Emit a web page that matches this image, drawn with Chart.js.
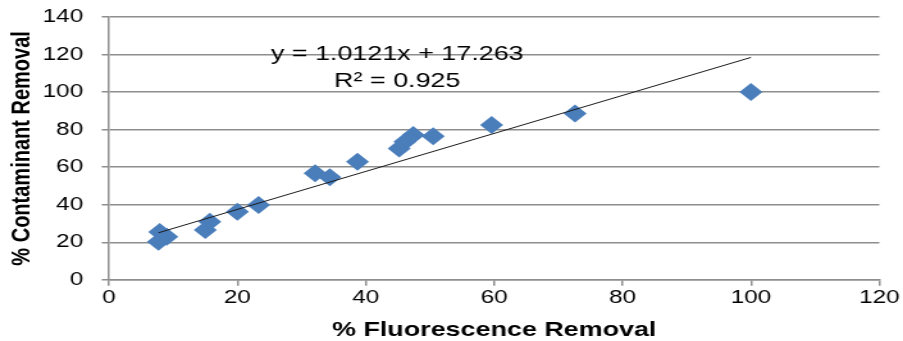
<!DOCTYPE html>
<html>
<head>
<meta charset="utf-8">
<title>Fluorescence vs Contaminant Removal</title>
<script src="https://cdn.jsdelivr.net/npm/chart.js@4.4.1/dist/chart.umd.min.js"></script>
<style>
    html, body { margin: 0; padding: 0; background: #fff; overflow: hidden; }
    /* chart is laid out narrow and widened, like the exported figure */
    #wrap { width: 705px; height: 341px; transform: scaleX(1.2809); transform-origin: 0 0; }
</style>
</head>
<body>
<div id="wrap"><canvas id="removalChart"></canvas></div>
<script>
var fluorescenceRemoval = [7.9, 7.7, 9.0, 15.7, 15.0, 20.0, 23.3, 32.1, 34.4, 38.7, 45.2, 46.1, 47.4, 50.5, 59.6, 72.6, 100];
var contaminantRemoval  = [25.4, 20.3, 22.9, 30.9, 26.5, 36.2, 39.8, 56.7, 54.6, 62.9, 70.0, 73.5, 77.1, 76.5, 82.4, 88.6, 100];

var xTickValues = [0, 20, 40, 60, 80, 100, 120];
var yTickValues = [0, 20, 40, 60, 80, 100, 120, 140];

// linear fit reported on the chart
var trendSlope = 1.0121;
var trendIntercept = 17.263;
var trendLabel = ['y = 1.0121x + 17.263', 'R\u00B2 = 0.925'];

var axisGray = '#8e8e8e';
var fontFamily = 'Arial, "Liberation Sans", sans-serif';

var points = fluorescenceRemoval.map(function (x, i) {
    return { x: x, y: contaminantRemoval[i] };
});
var xMin = Math.min.apply(null, fluorescenceRemoval);
var xMax = Math.max.apply(null, fluorescenceRemoval);
var trendPoints = [xMin, xMax].map(function (x) {
    return { x: x, y: trendSlope * x + trendIntercept };
});

// writes the fit equation above the line
var equationLabel = {
    id: 'equationLabel',
    afterDatasetsDraw: function (chart) {
        var ctx = chart.ctx;
        var x = chart.scales.x.getPixelForValue(44.9);
        var y = chart.scales.y.getPixelForValue(117);
        ctx.save();
        ctx.font = '21px ' + fontFamily;
        ctx.fillStyle = '#000';
        ctx.textAlign = 'center';
        ctx.textBaseline = 'alphabetic';
        ctx.fillText(trendLabel[0], x, y);
        ctx.fillText(trendLabel[1], x, y + 27);
        ctx.restore();
    }
};

function setTicks(values) {
    return function (scale) {
        scale.ticks = values.map(function (v) { return { value: v }; });
    };
}

var ctx = document.getElementById('removalChart').getContext('2d');
var removalChart = new Chart(ctx, {
    type: 'scatter',
    data: {
        datasets: [{
            label: 'Linear fit',
            data: trendPoints,
            showLine: true,
            borderColor: '#1a1a1a',
            borderWidth: 1,
            pointRadius: 0,
            fill: false
        }, {
            label: 'Samples',
            data: points,
            pointStyle: 'rectRot',
            pointRadius: 9,
            backgroundColor: '#4A7EBB',
            borderColor: '#4A7EBB',
            borderWidth: 0
        }]
    },
    options: {
        responsive: true,
        maintainAspectRatio: false,
        animation: false,
        layout: { padding: { top: 17, right: 18.5, bottom: 0, left: 0 } },
        plugins: {
            legend: { display: false },
            tooltip: { enabled: false }
        },
        scales: {
            x: {
                type: 'linear',
                min: 0,
                max: 120,
                afterBuildTicks: setTicks(xTickValues),
                afterFit: function (scale) {
                    scale.height = 61.2;
                    scale.paddingLeft = 0;
                    scale.paddingRight = 0;
                },
                ticks: { color: '#000', padding: 1, font: { family: fontFamily, size: 19 } },
                grid: { drawOnChartArea: false, drawTicks: true, tickLength: 6, color: axisGray, lineWidth: 1.5 },
                border: { display: true, color: axisGray, width: 1.5 },
                title: {
                    display: true,
                    text: '% Fluorescence Removal',
                    color: '#000',
                    padding: { top: 0, bottom: 0 },
                    font: { family: fontFamily, size: 21, weight: 'bold', lineHeight: 1 }
                }
            },
            y: {
                type: 'linear',
                min: 0,
                max: 140,
                afterBuildTicks: setTicks(yTickValues),
                afterFit: function (scale) {
                    scale.width = 85.1;
                    scale.paddingTop = 0;
                    scale.paddingBottom = 0;
                },
                ticks: { color: '#000', padding: 14.4, font: { family: fontFamily, size: 19 } },
                grid: { drawTicks: true, tickLength: 5.7, color: axisGray, lineWidth: 1.5 },
                border: { display: true, color: axisGray, width: 1.5 },
                title: {
                    display: true,
                    text: '% Contaminant Removal',
                    color: '#000',
                    padding: { top: 7.3, bottom: 0 },
                    font: { family: fontFamily, size: 20, weight: 'bold', lineHeight: 1 }
                }
            }
        }
    },
    plugins: [equationLabel]
});
</script>
</body>
</html>
